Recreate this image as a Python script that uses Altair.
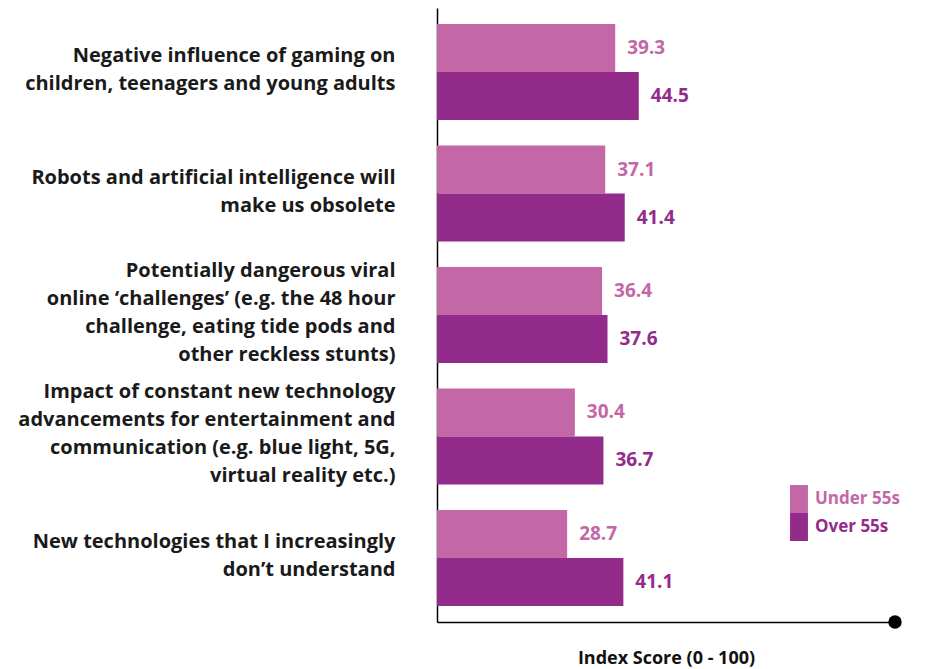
import altair as alt
import pandas as pd

categories = [
    "Negative influence of gaming on|children, teenagers and young adults",
    "Robots and artificial intelligence will|make us obsolete",
    "Potentially dangerous viral|online \u2018challenges\u2019 (e.g. the 48 hour|challenge, eating tide pods and|other reckless stunts)",
    "Impact of constant new technology|advancements for entertainment and|communication (e.g. blue light, 5G,|virtual reality etc.)",
    "New technologies that I increasingly|don\u2019t understand",
]
series = ["Under 55s", "Over 55s"]
under_55 = [39.3, 37.1, 36.4, 30.4, 28.7]
over_55 = [44.5, 41.4, 37.6, 36.7, 41.1]
colors = ["#c367a6", "#932b8b"]
axis_end = [101]

rows = []
for c, u, o in zip(categories, under_55, over_55):
    rows.append({"cat": c, "series": series[0], "value": u})
    rows.append({"cat": c, "series": series[1], "value": o})
df = pd.DataFrame(rows)

FONT = "Open Sans"

xscale = alt.Scale(domain=[0, 101], nice=False, zero=True)
yscale = alt.Scale(paddingInner=0.21, paddingOuter=0.132)
cscale = alt.Scale(domain=series, range=colors)

base = alt.Chart(df)

bars = base.mark_bar().encode(
    x=alt.X("value:Q", scale=xscale,
            axis=alt.Axis(title="Index Score (0 - 100)", labels=False, ticks=False, grid=False,
                          domainColor="black", domainWidth=1.5, titleFont=FONT,
                          titleFontSize=18, titleFontWeight="bold", titleColor="#111",
                          titlePadding=27)),
    y=alt.Y("cat:N", sort=categories, scale=yscale,
            axis=alt.Axis(title=None, ticks=False, grid=False, domainColor="black",
                          domainWidth=1.5, labelFont=FONT, labelFontSize=20,
                          labelFontWeight="bold", labelColor="#1a1a1a", labelLimit=600,
                          labelPadding=42, labelLineHeight=28,
                          labelOffset=alt.ExprRef("-(length(split(datum.label, '|')) - 1) * 14 - 2"),
                          labelExpr="split(datum.label, '|')")),
    yOffset=alt.YOffset("series:N", sort=series),
    color=alt.Color("series:N", scale=cscale,
                    legend=alt.Legend(title=None, orient="none", legendX=348, legendY=477,
                                      padding=0, rowPadding=0, labelOffset=2,
                                      symbolType="M-0.64,-1L0.64,-1L0.64,1L-0.64,1Z",
                                      symbolSize=784, symbolStrokeWidth=0,
                                      labelFont=FONT, labelFontSize=17, labelFontWeight="bold",
                                      labelColor=alt.ExprRef("datum.label === 'Under 55s' ? '#c367a6' : '#932b8b'"))),
)

labels = base.mark_text(align="left", baseline="middle", dx=12, font=FONT,
                        fontSize=19, fontWeight="bold").encode(
    x=alt.X("value:Q", scale=xscale),
    y=alt.Y("cat:N", sort=categories, scale=yscale),
    yOffset=alt.YOffset("series:N", sort=series),
    text=alt.Text("value:Q", format=".1f"),
    color=alt.Color("series:N", scale=cscale, legend=None),
)

dot = alt.Chart(pd.DataFrame({"x": axis_end})).mark_circle(size=180, color="black", opacity=1).encode(
    x=alt.X("x:Q", scale=xscale),
    y=alt.value(614),
)

chart = alt.layer(bars, labels, dot).properties(
    width=458, height=614,
    autosize=alt.AutoSizeParams(type="none"),
    padding={"left": 429, "top": 0, "right": 25, "bottom": 47},
).configure_view(stroke=None)

chart.save("out.html", embed_options={"renderer": "svg", "actions": False})
